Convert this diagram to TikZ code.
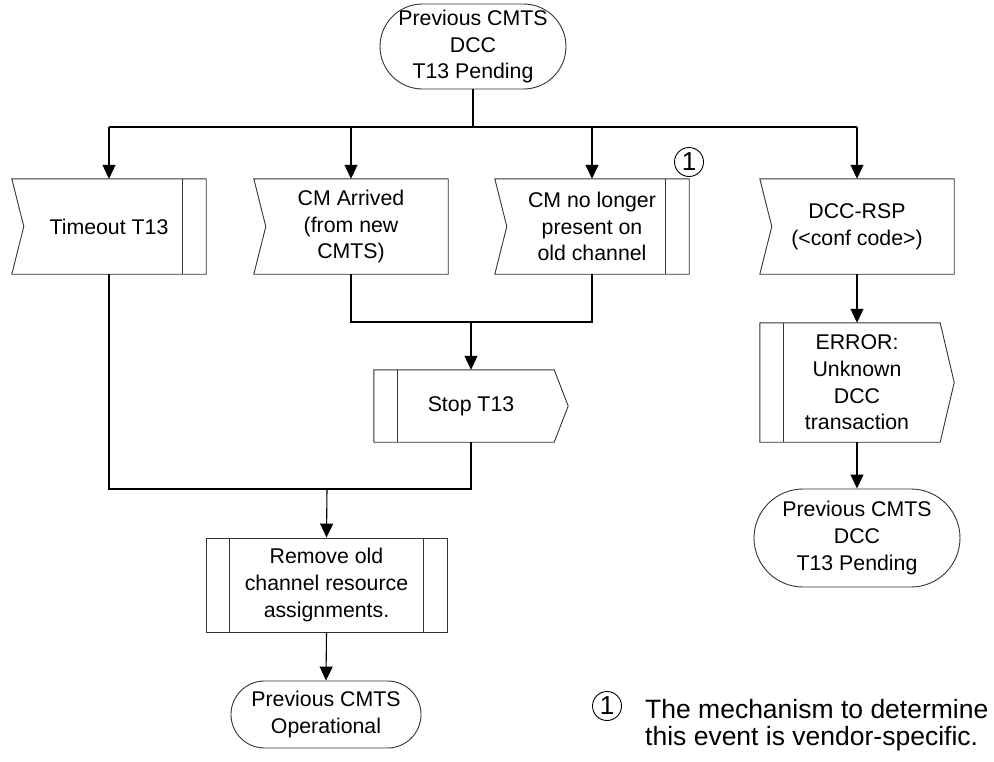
\documentclass[tikz,border=0pt]{standalone}
\usepackage{fontspec}
\setmainfont{Liberation Sans}
\usetikzlibrary{arrows.meta,calc}
\newcommand\boxfont{\fontsize{21.3}{26.7}\selectfont}
\newcommand\notefont{\fontsize{26.5}{27.5}\selectfont}
\tikzset{
  shp/.style={draw=black!80, line width=0.9pt},
  lbl/.style={draw=none, inner sep=0pt, align=center, font=\boxfont},
  term/.style={shp, inner sep=0pt, align=center, font=\boxfont, rounded corners=#1},
  flow/.style={line width=1.1pt, black},
  flowarrow/.style={flow, -{Triangle[width=13pt,length=14pt]}},
  numcirc/.style={circle, draw=black, line width=0.9pt, inner sep=0pt, minimum size=29pt, fill=white, font=\fontsize{26}{26}\selectfont}
}
\newcommand\drawinbox[1]{\draw[shp] (#1.north west) -- (#1.north east) -- (#1.south east) -- (#1.south west) -- ($(#1.west)+(12,0)$) -- cycle;}
\newcommand\drawoutbox[1]{\draw[shp] (#1.north west) -- ($(#1.north east)+(-14,0)$) -- (#1.east) -- ($(#1.south east)+(-14,0)$) -- (#1.south west) -- cycle;}
\newcommand\drawbarR[1]{\draw[shp] ($(#1.north east)+(-24,0)$) -- ($(#1.south east)+(-24,0)$);}
\newcommand\drawbarL[1]{\draw[shp] ($(#1.north west)+(24,0)$) -- ($(#1.south west)+(24,0)$);}
\begin{document}
\begin{tikzpicture}[x=1pt,y=-1pt]
\useasboundingbox (0,0) rectangle (994,761);
% terminals
\node[term=42.5pt, minimum width=186pt, minimum height=85pt] (top) at (473,46.5) {Previous CMTS\\DCC\\T13 Pending};
\node[term=33.5pt, minimum width=190pt, minimum height=67pt] (op) at (326,714.5) {Previous CMTS\\Operational};
\node[term=49pt, minimum width=206pt, minimum height=98pt] (pend) at (857,538) {Previous CMTS\\DCC\\T13 Pending};
% input signals
\node[lbl, minimum width=194pt, minimum height=95pt] (t13) at (109,226.5) {Timeout T13};
\node[lbl, minimum width=194pt, minimum height=95pt] (arr) at (351,226.5) {CM Arrived\\(from new\\CMTS)};
\node[lbl, minimum width=194pt, minimum height=95pt] (gone) at (592,226.5) {CM no longer\\present on\\old channel};
\node[lbl, minimum width=194pt, minimum height=95pt] (rsp) at (857,226.5) {DCC-RSP\\(<conf code>)};
\drawinbox{t13}\drawbarR{t13}
\drawinbox{arr}
\drawinbox{gone}\drawbarR{gone}
\drawinbox{rsp}
% output signals
\node[lbl, minimum width=194pt, minimum height=72pt] (stop) at (471,406) {Stop T13};
\node[lbl, minimum width=194pt, minimum height=119pt] (err) at (857,382.5) {ERROR:\\Unknown\\DCC\\transaction};
\drawoutbox{stop}\drawbarL{stop}
\drawoutbox{err}\drawbarL{err}
% process
\node[lbl, shp, minimum width=241pt, minimum height=94pt] (rm) at (326.5,585) {Remove old\\channel resource\\assignments.};
\drawbarL{rm}\drawbarR{rm}
% numbered marks
\node[numcirc] (c1) at (689,162) {1};
\node[numcirc] (n1) at (607,706) {1};
\node[anchor=north west, inner sep=0pt, align=left, font=\notefont] (note) at (645,699) {The mechanism to determine\\this event is vendor-specific.};
% connectors
\coordinate (bus) at (473,127);
\coordinate (j1) at (471,322);
\coordinate (j2) at (327,489);
\draw[flow] (top.south) -- (bus);
\draw[flow] (t13.north |- bus) -- (rsp.north |- bus);
\draw[flowarrow] (t13.north |- bus) -- (t13.north);
\draw[flowarrow] (arr.north |- bus) -- (arr.north);
\draw[flowarrow] (gone.north |- bus) -- (gone.north);
\draw[flowarrow] (rsp.north |- bus) -- (rsp.north);
\draw[flow] (arr.south) -- (arr.south |- j1) -- (gone.south |- j1) -- (gone.south);
\draw[flowarrow] (j1) -- (stop.north);
\draw[flow] (t13.south) -- (t13.south |- j2) -- (stop.south |- j2) -- (stop.south);
\draw[flowarrow] (j2) -- (rm.north);
\draw[flowarrow] (rm.south) -- (op.north);
\draw[flowarrow] (rsp.south) -- (err.north);
\draw[flowarrow] (err.south) -- (pend.north);
\end{tikzpicture}
\end{document}
